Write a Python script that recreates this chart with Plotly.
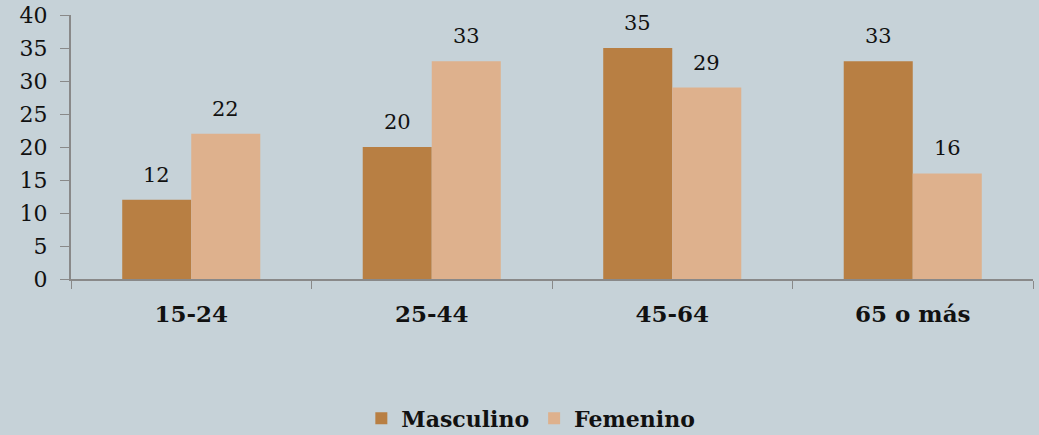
import plotly.graph_objects as go

categories = ["15-24", "25-44", "45-64", "65 o más"]
masculino = [12, 20, 35, 33]
femenino = [22, 33, 29, 16]

FONT = "Georgia, 'DejaVu Serif', serif"
COL_M = "#B87F43"
COL_F = "#DEB18D"

fig = go.Figure()
fig.add_trace(go.Bar(name="Masculino", x=categories, y=masculino, marker_color=COL_M,
                     marker_line_width=0))
fig.add_trace(go.Bar(name="Femenino", x=categories, y=femenino, marker_color=COL_F,
                     marker_line_width=0))

# data labels above bars
half_bar_px = 34.5
for vals, shift in ((masculino, -half_bar_px), (femenino, half_bar_px)):
    for c, v in zip(categories, vals):
        fig.add_annotation(x=c, y=v, text=str(v), showarrow=False, xshift=shift,
                           yanchor="bottom", yshift=11,
                           font=dict(size=21, family=FONT, color="#111"))

fig.update_layout(
    width=1039, height=435,
    paper_bgcolor="#C6D2D8", plot_bgcolor="#C6D2D8",
    margin=dict(l=71, r=6, t=15, b=156, autoexpand=False),
    barmode="group", bargap=0.426, bargroupgap=0,
    font=dict(family=FONT, color="#111"),
    showlegend=True,
    legend=dict(orientation="h", x=0.478, xanchor="center", y=-0.528, yanchor="middle",
                font=dict(size=22, family=FONT, weight="bold"), traceorder="normal",
                bgcolor="rgba(0,0,0,0)"),
)
fig.update_xaxes(type="category", tickson="boundaries", ticks="outside", ticklen=8, tickcolor="#898989",
                 showline=True, linecolor="#898989", linewidth=2, showgrid=False,
                 tickfont=dict(size=23, family=FONT, weight="bold"), ticklabelstandoff=13)
fig.update_yaxes(range=[0, 40], dtick=5, ticks="outside", ticklen=9, tickcolor="#898989",
                 showline=True, linecolor="#898989", linewidth=2, showgrid=False, zeroline=False,
                 tickfont=dict(size=22, family=FONT), ticklabelstandoff=8)

fig.write_html("out.html")
